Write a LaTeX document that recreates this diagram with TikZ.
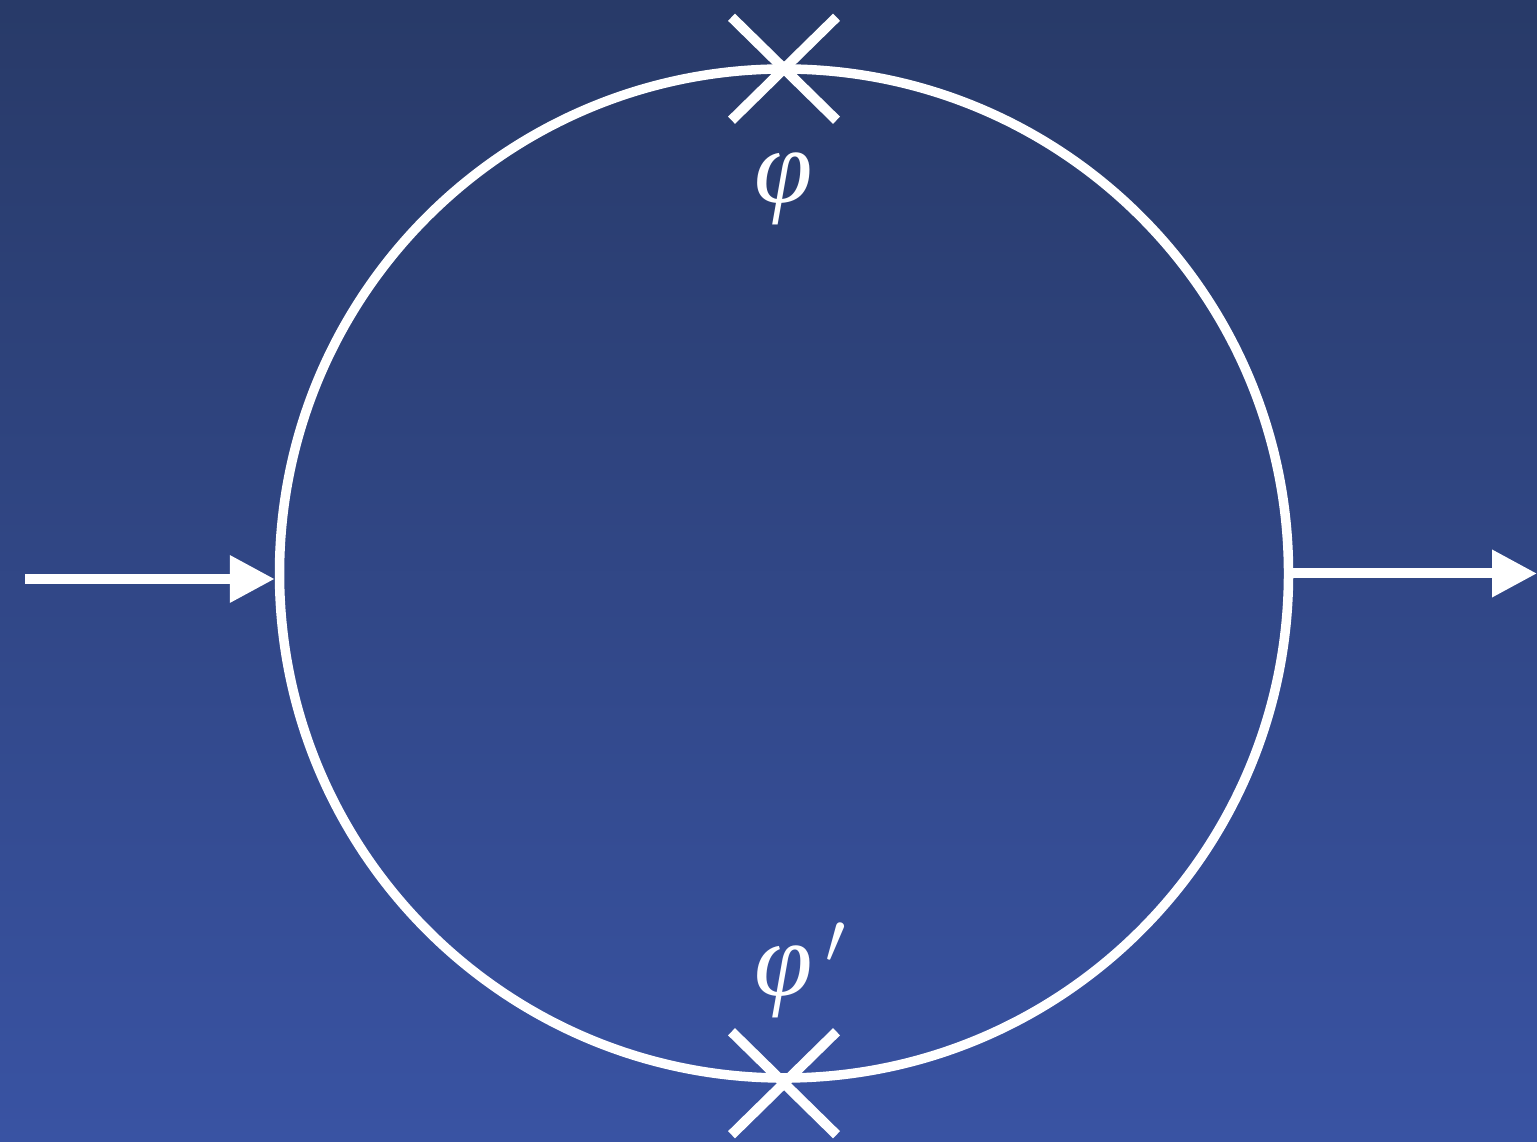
\documentclass[tikz,border=0pt]{standalone}
\usetikzlibrary{arrows.meta, positioning, shapes.misc}
\usepackage{xcolor}
\usepackage{fontspec}
\newfontfamily\phifont{Liberation Serif}
\definecolor{SkyTop}{HTML}{283A68}
\definecolor{SkyBottom}{HTML}{3953A3}

\begin{document}
\begin{tikzpicture}[
		wire/.style = {white, line width = 1mm, -{Triangle[length = 4.5mm, width = 4.5mm]}},
		marker/.style = {draw = white, cross out, line width = 1mm, minimum width = 1.05cm, minimum height = 1.03cm, inner sep = 0pt, outer sep = 0pt},
		fieldlabel/.style = {text = white, inner sep = 0pt, font = \fontsize{30}{36}\selectfont\phifont\itshape}
	]
	\def\W{15.37}
	\def\H{11.41}
	\shade[top color = SkyTop, bottom color = SkyBottom] (0, 0) rectangle (\W, \H);
	\useasboundingbox (0, 0) rectangle (\W, \H);
	\node[draw = white, circle, line width = 0.95mm, minimum size = 10.09cm, inner sep = 0pt] (ring) at (7.84, 5.675) {};
	\node[marker] (topX) at ([yshift = -0.45mm] ring.north) {};
	\node[marker] (botX) at ([yshift = -0.05mm] ring.south) {};
	\node[fieldlabel, above = 1.3mm of botX] (phiBot) {φ\rlap{\kern3.5pt$^\prime$}};
	\node[fieldlabel, below = 3.2mm of topX] (phiTop) {φ};
	\coordinate (in) at (0.25, 5.62);
	\coordinate (out) at (\W, 5.675);
	\draw[wire] (in) -- (in -| ring.west);
	\draw[wire] (ring.east) -- (ring.east -| out);
\end{tikzpicture}
\end{document}
